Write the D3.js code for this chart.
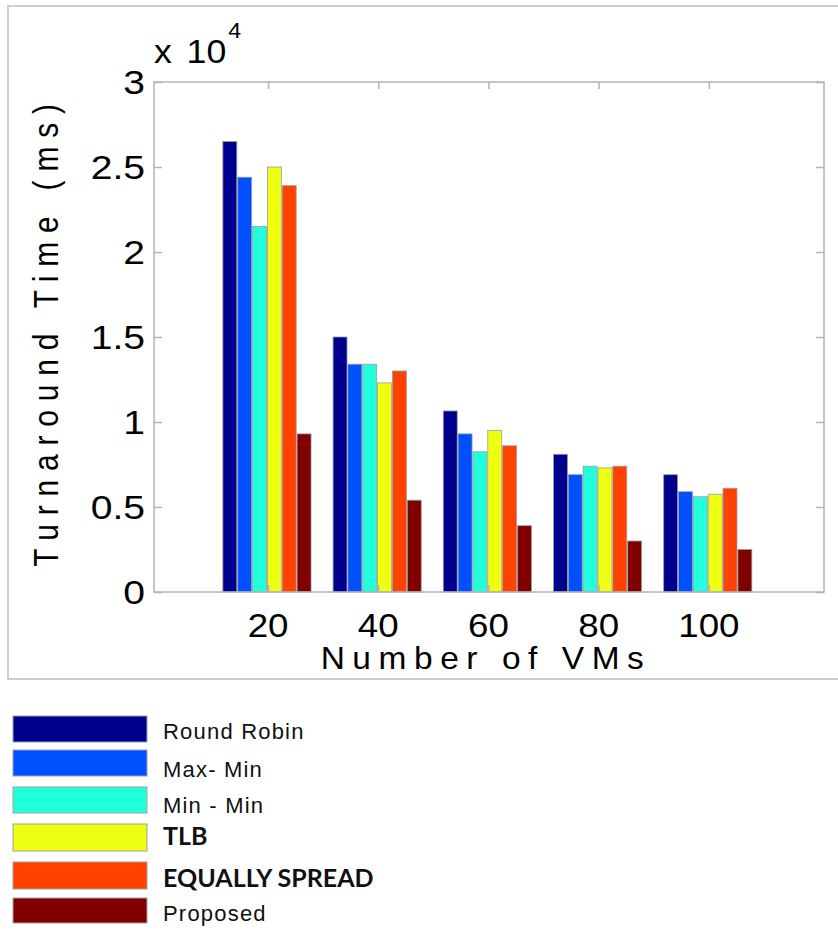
<!DOCTYPE html>
<html>
<head>
<meta charset="utf-8">
<script src="https://cdn.jsdelivr.net/npm/d3@7"></script>
<style>
  html, body { margin: 0; padding: 0; background: #fff; }
  svg { display: block; }
</style>
</head>
<body>
<svg id="chart" width="838" height="931"></svg>
<script>
// ---- data (turnaround time in ms) ----
const categories = [20, 40, 60, 80, 100];
const seriesNames = ["Round Robin", "Max- Min", "Min - Min", "TLB", "EQUALLY SPREAD", "Proposed"];
const roundRobin   = [26500, 15000, 10650, 8100, 6900];
const maxMin       = [24400, 13400,  9300, 6900, 5900];
const minMin       = [21500, 13400,  8250, 7400, 5600];
const tlb          = [25000, 12300,  9500, 7300, 5750];
const equallySpread= [23900, 13000,  8600, 7400, 6100];
const proposed     = [ 9300,  5400,  3900, 3000, 2500];
const yTickValues  = [0, 5000, 10000, 15000, 20000, 25000, 30000];
const yTickLabels  = ["0", "0.5", "1", "1.5", "2", "2.5", "3"];

const seriesValues = [roundRobin, maxMin, minMin, tlb, equallySpread, proposed];
const colors = ["#00008f", "#0050ff", "#22ffdd", "#eeff11", "#ff4200", "#800000"];

const svg = d3.select("#chart");
svg.append("rect").attr("width", 838).attr("height", 931).attr("fill", "#fff");

// outer figure border
svg.append("rect").attr("x", 8).attr("y", 6).attr("width", 840).attr("height", 673)
  .attr("fill", "none").attr("stroke", "#cfcfcf").attr("stroke-width", 2);

const L = 154, R = 824, T = 82, B = 592;
const x = d3.scaleLinear().domain([-0.7, 120.9]).range([L, R]);
const y = d3.scaleLinear().domain([0, 30000]).range([B, T]);
const inner = d3.scaleBand().domain(d3.range(seriesNames.length))
  .paddingInner(0.06);

const axisColor = "#b4b4b4";
const font = "'Liberation Sans', Arial, sans-serif";
const stretch = 1.15;

// bars
const gBars = svg.append("g");
categories.forEach((c, ci) => {
  inner.range([x(c - 8.2), x(c + 7.8)]);
  seriesValues.forEach((vals, si) => {
    gBars.append("rect")
      .attr("x", inner(si))
      .attr("width", inner.bandwidth())
      .attr("y", y(vals[ci]))
      .attr("height", y(0) - y(vals[ci]))
      .attr("fill", colors[si])
      .attr("stroke", "#9c9c9c")
      .attr("stroke-width", 0.8);
  });
});

// axes box
svg.append("rect").attr("x", L).attr("y", T).attr("width", R - L).attr("height", B - T)
  .attr("fill", "none").attr("stroke", axisColor).attr("stroke-width", 1.5);

// ticks (both sides, inward)
const yAxisL = d3.axisLeft(y).tickValues(yTickValues).tickSize(-8).tickFormat("");
const yAxisR = d3.axisRight(y).tickValues(yTickValues).tickSize(-8).tickFormat("");
const xAxisB = d3.axisBottom(x).tickValues(categories).tickSize(-7).tickFormat("");
const xAxisT = d3.axisTop(x).tickValues(categories).tickSize(-7).tickFormat("");
[[yAxisL, `translate(${L},0)`], [yAxisR, `translate(${R},0)`],
 [xAxisB, `translate(0,${B})`], [xAxisT, `translate(0,${T})`]].forEach(([ax, tr]) => {
  const g = svg.append("g").attr("transform", tr).call(ax);
  g.select(".domain").remove();
  g.selectAll("line").attr("stroke", axisColor).attr("stroke-width", 1.5);
});

// y tick labels
yTickValues.forEach((v, i) => {
  svg.append("text")
    .attr("transform", `translate(145,${y(v)}) scale(${stretch},1)`)
    .attr("text-anchor", "end").attr("dominant-baseline", "central")
    .attr("font-family", font).attr("font-size", 34).attr("fill", "#000")
    .text(yTickLabels[i]);
});

// x tick labels
categories.forEach(c => {
  svg.append("text")
    .attr("transform", `translate(${x(c)},637) scale(1.08,1)`)
    .attr("text-anchor", "middle")
    .attr("font-family", font).attr("font-size", 34).attr("fill", "#000")
    .text(c);
});

// exponent label
const ex = svg.append("text").attr("transform", `translate(154,63) scale(1.05,1)`)
  .attr("font-family", font).attr("font-size", 34).attr("fill", "#000");
ex.append("tspan").text("x");
ex.append("tspan").attr("dx", 14).text("10");
ex.append("tspan").attr("dx", 2).attr("dy", -25).attr("font-size", 22).text("4");

// axis titles
svg.append("text")
  .attr("transform", `translate(58,335) scale(${stretch},1) rotate(-90)`)
  .attr("text-anchor", "middle")
  .attr("font-family", font).attr("font-size", 30).attr("letter-spacing", 8.8)
  .attr("dx", 4).attr("fill", "#000")
  .text("Turnaround Time (ms)");

svg.append("text")
  .attr("transform", `translate(486,669) scale(1.08,1)`)
  .attr("text-anchor", "middle")
  .attr("font-family", font).attr("font-size", 31).attr("letter-spacing", 7)
  .attr("fill", "#000")
  .text("Number of VMs");

// legend
const legendTops = [716, 750, 787, 824, 862, 898];
const legendH = [26, 26, 26, 27, 27, 25];
const labelBase = [739, 777, 813, 845, 887, 921];
const boldLabels = [false, false, false, true, true, false];
seriesNames.forEach((name, i) => {
  svg.append("rect").attr("x", 13).attr("y", legendTops[i])
    .attr("width", 134).attr("height", legendH[i])
    .attr("fill", colors[i]).attr("stroke", "#a0a0a0").attr("stroke-width", 1);
  const t = svg.append("text")
    .attr("x", 163).attr("y", labelBase[i])
    .attr("fill", "#111")
    .text(name);
  if (boldLabels[i]) {
    t.attr("font-family", "Lato, 'Open Sans', sans-serif").attr("font-weight", "bold")
     .attr("font-size", 25);
  } else {
    t.attr("font-family", font).attr("font-size", 22).attr("letter-spacing", 1.2);
  }
});
</script>
</body>
</html>
